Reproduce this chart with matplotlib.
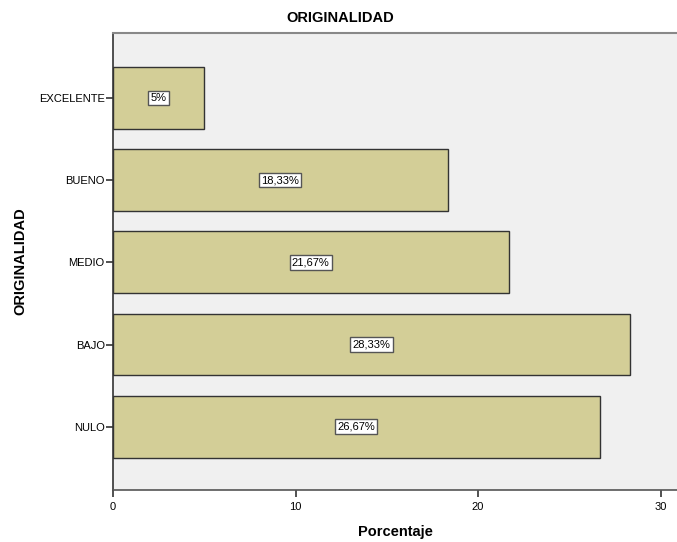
import matplotlib
matplotlib.use("Agg")
import matplotlib.pyplot as plt

# datos
categorias = ['NULO', 'BAJO', 'MEDIO', 'BUENO', 'EXCELENTE']
porcentajes = [26.67, 28.33, 21.67, 18.33, 5.0]
etiquetas = ['26,67%', '28,33%', '21,67%', '18,33%', '5%']

plt.rcParams['font.family'] = ['Liberation Sans', 'DejaVu Sans']

fig = plt.figure(figsize=(6.77, 5.42), dpi=100)
ax = fig.add_axes([113 / 677, 52 / 542, 1 - 113 / 677, 457 / 542])
ax.set_facecolor('#F0F0F0')

pos = range(len(categorias))
ax.barh(pos, porcentajes, height=0.75, color='#D3CE97', edgecolor='#333333', linewidth=1)

# etiquetas dentro de las barras
for i, (v, t) in enumerate(zip(porcentajes, etiquetas)):
    ax.text(v / 2, i, t, ha='center', va='center', fontsize=8,
            bbox=dict(facecolor='white', edgecolor='#555555', boxstyle='square,pad=0.2', linewidth=1))

ax.set_xlim(0, 30.9)
ax.set_ylim(-0.77, 4.79)
ax.set_yticks(list(pos))
ax.set_yticklabels(categorias)
ax.set_xticks([0, 10, 20, 30])

ax.tick_params(axis='both', labelsize=8, length=5, width=1.2, color='#333333')
ax.tick_params(axis='y', pad=1)
ax.tick_params(axis='x', pad=4)

ax.spines['right'].set_visible(False)
ax.spines['top'].set_color('#888888')
ax.spines['top'].set_linewidth(1.5)
ax.spines['left'].set_color('#333333')
ax.spines['bottom'].set_color('#555555')
ax.spines['left'].set_linewidth(1.2)
ax.spines['bottom'].set_linewidth(1.2)

ax.set_xlabel('Porcentaje', fontsize=10.5, fontweight='bold', labelpad=9)
ax.set_ylabel('ORIGINALIDAD', fontsize=10.5, fontweight='bold', labelpad=8)
fig.text(340 / 677, 1 - 18 / 542, 'ORIGINALIDAD', ha='center', va='center',
         fontsize=10.5, fontweight='bold')

fig.savefig('out.png', dpi=100)
